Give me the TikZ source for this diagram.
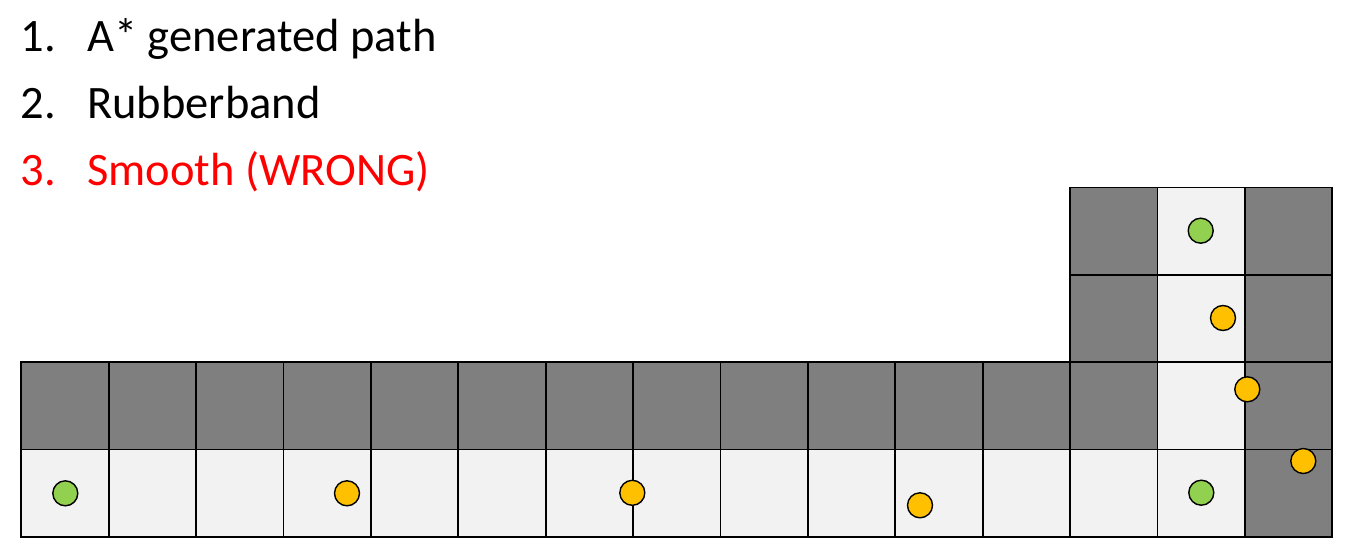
\documentclass[tikz,border=0pt]{standalone}
\usepackage{fontspec}
\setmainfont{Carlito}
\definecolor{wall}{HTML}{7F7F7F}
\definecolor{free}{HTML}{F2F2F2}
\definecolor{gpt}{HTML}{92D050}
\definecolor{opt}{HTML}{FFC000}
\definecolor{wrong}{HTML}{FF0000}
\begin{document}
\begin{tikzpicture}[x=1pt,y=-1pt,
  cellw/.style={draw=black,line width=1.7pt,fill=wall,minimum size=87.4pt,inner sep=0pt,outer sep=0pt},
  cellf/.style={draw=black,line width=1.7pt,fill=free,minimum size=87.4pt,inner sep=0pt,outer sep=0pt},
  dotg/.style={circle,draw=black,line width=1.4pt,fill=gpt,minimum size=25pt,inner sep=0pt},
  doto/.style={circle,draw=black,line width=1.4pt,fill=opt,minimum size=25pt,inner sep=0pt},
  item/.style={anchor=base west,inner sep=0pt,font=\fontsize{46.5}{56}\selectfont}]
\useasboundingbox (0,0) rectangle (1346,551);
% rows 2 and 3
\foreach \i in {0,...,12} {
  \node[cellw] (w2-\i) at ({21.3+87.4*\i+43.7},{362.2+43.7}) {};
}
\node[cellf] (f2-13) at ({21.3+87.4*13+43.7},{362.2+43.7}) {};
\node[cellw] (w2-14) at ({21.3+87.4*14+43.7},{362.2+43.7}) {};
\foreach \i in {0,...,13} {
  \node[cellf] (f3-\i) at ({21.3+87.4*\i+43.7},{449.6+43.7}) {};
}
\node[cellw] (w3-14) at ({21.3+87.4*14+43.7},{449.6+43.7}) {};
% rows 0 and 1
\foreach \r/\y in {0/187.4,1/274.8} {
  \node[cellw] (w\r-12) at ({21.3+87.4*12+43.7},{\y+43.7}) {};
  \node[cellf] (f\r-13) at ({21.3+87.4*13+43.7},{\y+43.7}) {};
  \node[cellw] (w\r-14) at ({21.3+87.4*14+43.7},{\y+43.7}) {};
}
% points
\node[dotg] (start) at (65.3,493.3) {};
\node[doto] (p1) at (347,493.3) {};
\node[doto] (p2) at (632.3,492.8) {};
\node[doto] (p3) at (920,505.3) {};
\node[dotg] (mid) at (1201.3,492.7) {};
\node[doto] (p4) at (1303.3,461) {};
\node[doto] (p5) at (1247.3,389.3) {};
\node[doto] (p6) at (1223,318) {};
\node[dotg] (goal) at (1200.7,230.7) {};
% texts
\node[item] (n1) at (20.5,51.7) {1.};
\node[item] (t1) at (87,51.7) {A* generated path};
\node[item] (n2) at (20.5,118.3) {2.};
\node[item] (t2) at (87,118.3) {Rubberband};
\node[item,text=wrong] (n3) at (20.5,185) {3.};
\node[item,text=wrong] (t3) at (87,185) {Smooth (WRONG)};
\end{tikzpicture}
\end{document}
